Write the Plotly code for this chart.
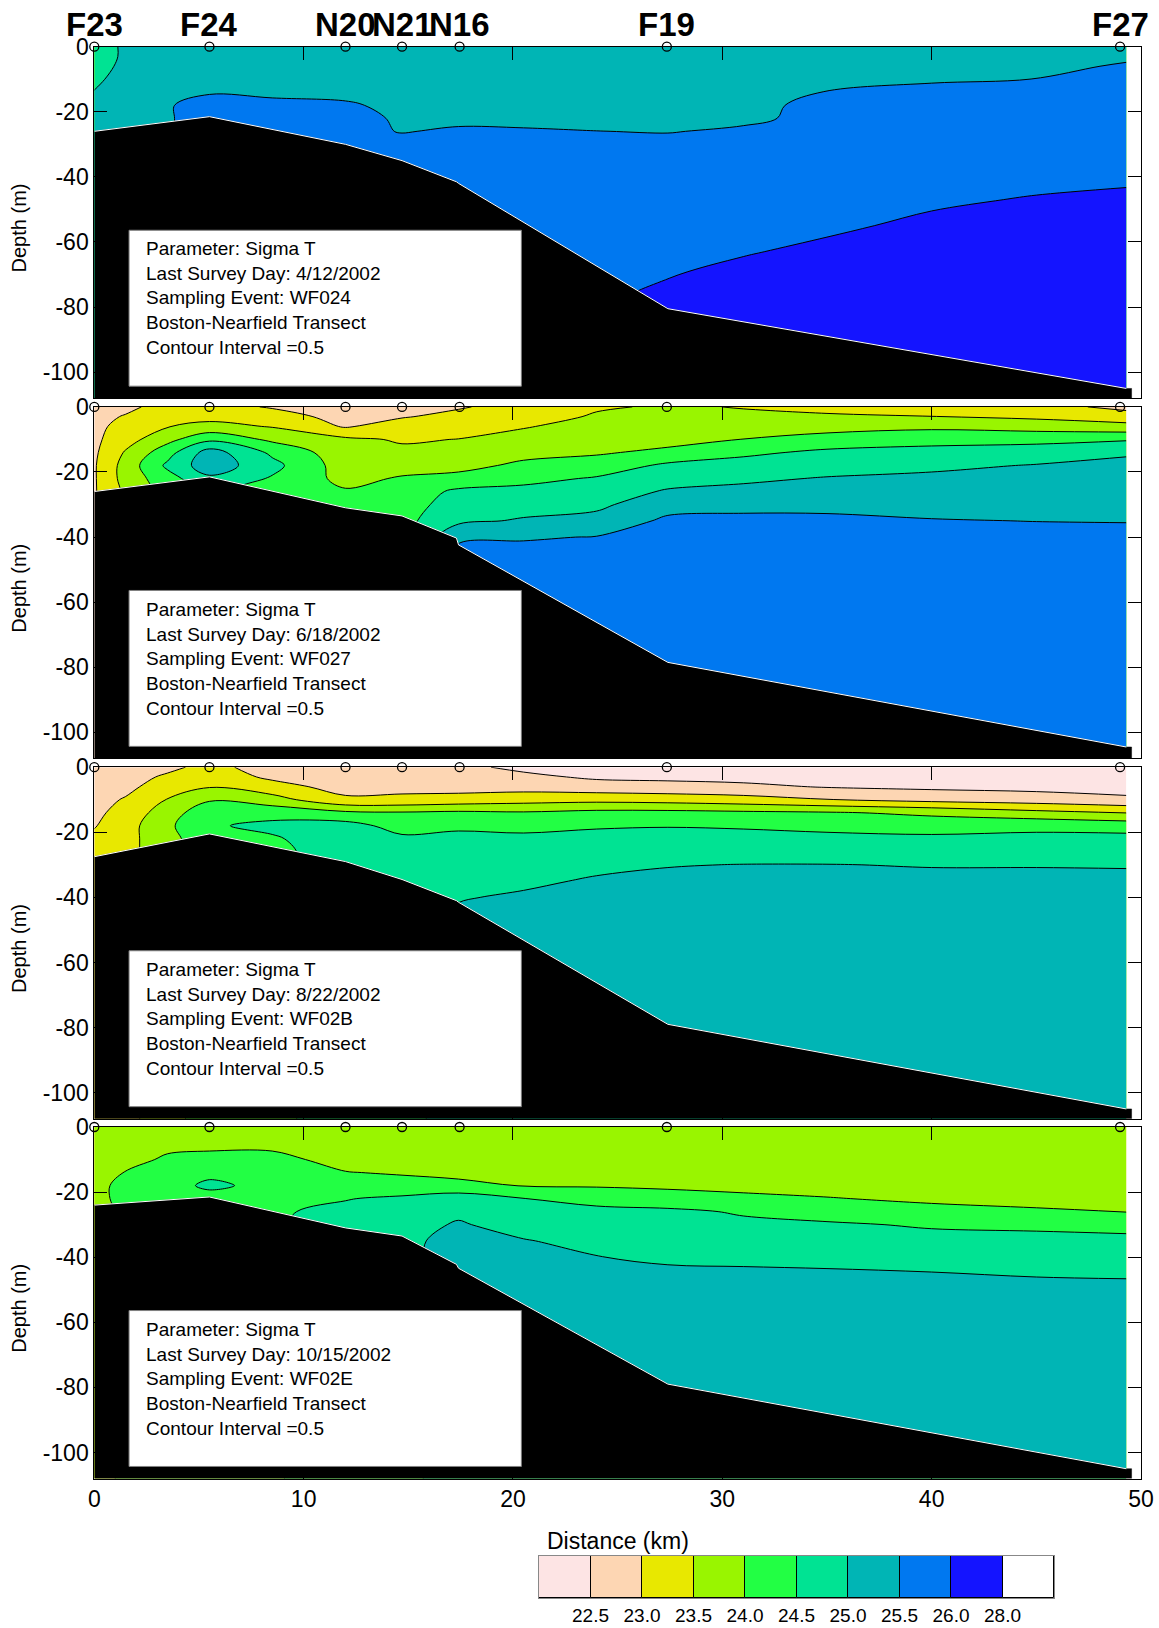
import numpy as np
import plotly.graph_objects as go

# ---------------- data ----------------
X_KM = [0, 1.5, 3.5, 5.5, 8.5, 12.0, 14.7, 17.4, 20.5, 24.0, 27.4, 31.0, 35.0, 40.0, 45.0, 49.3]
DEPTH_M = [0, -3, -6, -10, -14, -18, -22, -26, -30, -35, -40, -47, -55, -63, -71, -80, -90, -100, -108]

STATIONS = ["F23", "F24", "N20", "N21", "N16", "F19", "F27"]
STATION_KM = [0.0, 5.5, 12.0, 14.7, 17.45, 27.35, 49.0]
STATION_DEPTH = [0, 0, 0, 0, 0, 0, 0]

SURVEY_DAYS = ["4/12/2002", "6/18/2002", "8/22/2002", "10/15/2002"]
EVENTS = ["WF024", "WF027", "WF02B", "WF02E"]

# sigma-T profiles, one list per X_KM column, values at DEPTH_M
SIGMA_APR = [
    [24.7, 24.7, 24.75, 24.9, 25.02, 25.2, 25.25, 25.3, 25.3, 25.3, 25.3, 25.3, 25.3, 25.3, 25.3, 25.3, 25.3, 25.3, 25.3],
    [25.1, 25.1, 25.15, 25.2, 25.25, 25.3, 25.35, 25.35, 25.35, 25.35, 25.35, 25.35, 25.35, 25.35, 25.35, 25.35, 25.35, 25.35, 25.35],
    [25.25, 25.25, 25.25, 25.3, 25.35, 25.45, 25.45, 25.45, 25.45, 25.45, 25.45, 25.45, 25.45, 25.45, 25.45, 25.45, 25.45, 25.45, 25.45],
    [25.25, 25.25, 25.25, 25.3, 25.45, 25.75, 25.75, 25.75, 25.75, 25.75, 25.75, 25.75, 25.75, 25.75, 25.75, 25.75, 25.75, 25.75, 25.75],
    [25.25, 25.25, 25.25, 25.3, 25.37, 25.67, 25.75, 25.75, 25.75, 25.75, 25.75, 25.75, 25.75, 25.75, 25.75, 25.75, 25.75, 25.75, 25.75],
    [25.25, 25.25, 25.25, 25.25, 25.3, 25.6, 25.75, 25.75, 25.75, 25.75, 25.75, 25.75, 25.75, 25.75, 25.75, 25.75, 25.75, 25.75, 25.75],
    [25.25, 25.25, 25.25, 25.25, 25.25, 25.3, 25.4, 25.46, 25.76, 25.75, 25.75, 25.75, 25.75, 25.75, 25.75, 25.75, 25.75, 25.75, 25.75],
    [25.25, 25.25, 25.25, 25.25, 25.25, 25.28, 25.31, 25.61, 25.75, 25.75, 25.75, 25.75, 25.75, 25.75, 25.75, 25.75, 25.75, 25.75, 25.75],
    [25.25, 25.25, 25.25, 25.25, 25.25, 25.25, 25.28, 25.58, 25.75, 25.75, 25.75, 25.78, 25.8, 25.8, 25.85, 25.85, 25.85, 25.85, 25.85],
    [25.25, 25.25, 25.25, 25.25, 25.25, 25.25, 25.22, 25.51, 25.7, 25.75, 25.75, 25.78, 25.8, 25.85, 25.9, 25.9, 25.9, 25.9, 25.9],
    [25.25, 25.25, 25.25, 25.25, 25.25, 25.25, 25.3, 25.46, 25.76, 25.75, 25.75, 25.8, 25.85, 25.9, 25.99, 26.29, 26.3, 26.3, 26.3],
    [25.25, 25.25, 25.25, 25.25, 25.25, 25.28, 25.33, 25.63, 25.75, 25.75, 25.8, 25.82, 25.88, 25.94, 26.26, 26.3, 26.3, 26.3, 26.3],
    [25.25, 25.25, 25.28, 25.32, 25.52, 25.72, 25.75, 25.75, 25.78, 25.8, 25.8, 25.82, 25.86, 26.18, 26.25, 26.3, 26.3, 26.3, 26.3],
    [25.25, 25.28, 25.32, 25.41, 25.71, 25.75, 25.75, 25.77, 25.78, 25.8, 25.82, 25.87, 26.17, 26.25, 26.3, 26.3, 26.3, 26.3, 26.3],
    [25.15, 25.18, 25.21, 25.51, 25.7, 25.72, 25.74, 25.75, 25.75, 25.75, 25.76, 26.06, 26.2, 26.25, 26.3, 26.3, 26.3, 26.3, 26.3],
    [25.3, 25.32, 25.62, 25.72, 25.75, 25.75, 25.75, 25.75, 25.78, 25.8, 25.86, 26.16, 26.25, 26.3, 26.3, 26.3, 26.3, 26.3, 26.3],
]

SIGMA_JUN = [
    [22.7, 22.8, 22.85, 22.9, 22.92, 22.95, 22.95, 22.95, 22.95, 22.95, 22.95, 22.95, 22.95, 22.95, 22.95, 22.95, 22.95, 22.95, 22.95],
    [22.85, 23.05, 23.2, 23.3, 23.55, 23.7, 23.7, 23.6, 23.6, 23.6, 23.6, 23.6, 23.6, 23.6, 23.6, 23.6, 23.6, 23.6, 23.6],
    [23.25, 23.3, 23.48, 23.85, 24.3, 24.6, 24.3, 24.2, 24.2, 24.2, 24.2, 24.2, 24.2, 24.2, 24.2, 24.2, 24.2, 24.2, 24.2],
    [23.2, 23.35, 23.65, 24.39, 25.23, 25.3, 24.9, 24.6, 24.6, 24.6, 24.6, 24.6, 24.6, 24.6, 24.6, 24.6, 24.6, 24.6, 24.6],
    [22.95, 23.25, 23.47, 23.9, 24.4, 24.65, 24.45, 24.3, 24.3, 24.3, 24.3, 24.3, 24.3, 24.3, 24.3, 24.3, 24.3, 24.3, 24.3],
    [22.65, 22.8, 22.95, 23.6, 23.7, 23.75, 23.85, 24.05, 24.2, 24.25, 24.25, 24.25, 24.25, 24.25, 24.25, 24.25, 24.25, 24.25, 24.25],
    [22.8, 22.96, 23.25, 23.45, 23.6, 23.8, 24.05, 24.2, 24.3, 24.35, 24.35, 24.35, 24.35, 24.35, 24.35, 24.35, 24.35, 24.35, 24.35],
    [22.95, 23.15, 23.3, 23.51, 23.65, 23.85, 24.15, 24.6, 24.7, 24.9, 25.4, 25.75, 25.75, 25.75, 25.75, 25.75, 25.75, 25.75, 25.75],
    [23.2, 23.3, 23.47, 23.65, 23.85, 24.1, 24.35, 24.65, 24.8, 25.05, 25.45, 25.75, 25.8, 25.8, 25.8, 25.8, 25.8, 25.8, 25.8],
    [23.45, 23.55, 23.65, 23.75, 23.95, 24.2, 24.55, 24.75, 24.9, 25.15, 25.52, 25.75, 25.8, 25.8, 25.8, 25.8, 25.8, 25.8, 25.8],
    [23.55, 23.6, 23.7, 23.85, 24.1, 24.6, 24.8, 25.05, 25.3, 25.6, 25.75, 25.8, 25.8, 25.8, 25.8, 25.8, 25.8, 25.8, 25.8],
    [23.48, 23.58, 23.7, 24.01, 24.4, 24.7, 24.92, 25.12, 25.35, 25.63, 25.75, 25.8, 25.8, 25.8, 25.8, 25.8, 25.8, 25.8, 25.8],
    [23.4, 23.55, 23.8, 24.2, 24.6, 24.8, 25.03, 25.2, 25.4, 25.58, 25.75, 25.8, 25.8, 25.8, 25.8, 25.8, 25.8, 25.8, 25.8],
    [23.3, 23.51, 23.9, 24.3, 24.7, 24.92, 25.08, 25.2, 25.3, 25.53, 25.75, 25.8, 25.8, 25.8, 25.8, 25.8, 25.8, 25.8, 25.8],
    [23.2, 23.4, 23.8, 24.33, 24.8, 25.02, 25.15, 25.25, 25.35, 25.49, 25.7, 25.8, 25.8, 25.8, 25.8, 25.8, 25.8, 25.8, 25.8],
    [22.85, 23.25, 23.65, 24.45, 24.95, 25.1, 25.2, 25.28, 25.35, 25.48, 25.65, 25.8, 25.8, 25.8, 25.8, 25.8, 25.8, 25.8, 25.8],
]

SIGMA_AUG = [
    [22.6, 22.65, 22.7, 22.8, 22.88, 22.97, 23.1, 23.2, 23.25, 23.25, 23.25, 23.25, 23.25, 23.25, 23.25, 23.25, 23.25, 23.25, 23.25],
    [22.65, 22.75, 22.85, 23.05, 23.2, 23.3, 23.35, 23.4, 23.4, 23.4, 23.4, 23.4, 23.4, 23.4, 23.4, 23.4, 23.4, 23.4, 23.4],
    [22.85, 23.1, 23.3, 23.52, 23.75, 23.9, 23.8, 23.7, 23.7, 23.7, 23.7, 23.7, 23.7, 23.7, 23.7, 23.7, 23.7, 23.7, 23.7],
    [23.2, 23.3, 23.47, 23.95, 24.35, 24.45, 24.4, 24.4, 24.4, 24.4, 24.4, 24.4, 24.4, 24.4, 24.4, 24.4, 24.4, 24.4, 24.4],
    [22.7, 22.9, 23.2, 23.7, 24.35, 24.6, 24.45, 24.35, 24.35, 24.35, 24.35, 24.35, 24.35, 24.35, 24.35, 24.35, 24.35, 24.35, 24.35],
    [22.6, 22.7, 22.8, 23.1, 24.1, 24.7, 24.75, 24.8, 24.8, 24.8, 24.8, 24.8, 24.8, 24.8, 24.8, 24.8, 24.8, 24.8, 24.8],
    [22.6, 22.7, 22.85, 23.12, 24.05, 24.3, 24.6, 24.75, 24.8, 24.85, 24.85, 24.85, 24.85, 24.85, 24.85, 24.85, 24.85, 24.85, 24.85],
    [22.6, 22.65, 22.8, 23.2, 24.1, 24.4, 24.65, 24.75, 24.82, 24.88, 24.97, 25.1, 25.2, 25.2, 25.2, 25.2, 25.2, 25.2, 25.2],
    [22.4, 22.6, 22.8, 23.3, 24.05, 24.35, 24.62, 24.72, 24.8, 24.92, 25.06, 25.15, 25.2, 25.2, 25.2, 25.2, 25.2, 25.2, 25.2],
    [22.2, 22.43, 22.7, 23.35, 24.15, 24.45, 24.65, 24.78, 24.9, 25.05, 25.15, 25.2, 25.2, 25.2, 25.2, 25.2, 25.2, 25.2, 25.2],
    [22.2, 22.4, 22.65, 23.3, 24.15, 24.48, 24.65, 24.8, 24.98, 25.1, 25.2, 25.2, 25.2, 25.2, 25.2, 25.2, 25.2, 25.2, 25.2],
    [22.15, 22.35, 22.6, 23.2, 24.1, 24.45, 24.65, 24.8, 25.01, 25.1, 25.2, 25.2, 25.2, 25.2, 25.2, 25.2, 25.2, 25.2, 25.2],
    [22.1, 22.3, 22.47, 23.02, 24.05, 24.38, 24.62, 24.8, 25.01, 25.1, 25.2, 25.2, 25.2, 25.2, 25.2, 25.2, 25.2, 25.2, 25.2],
    [22.1, 22.25, 22.4, 22.85, 23.9, 24.3, 24.6, 24.78, 24.98, 25.1, 25.2, 25.2, 25.2, 25.2, 25.2, 25.2, 25.2, 25.2, 25.2],
    [22.1, 22.2, 22.35, 22.75, 23.65, 24.4, 24.6, 24.78, 24.98, 25.1, 25.2, 25.2, 25.2, 25.2, 25.2, 25.2, 25.2, 25.2, 25.2],
    [22.05, 22.15, 22.3, 22.6, 23.49, 24.3, 24.65, 24.8, 24.97, 25.1, 25.2, 25.2, 25.2, 25.2, 25.2, 25.2, 25.2, 25.2, 25.2],
]

SIGMA_OCT = [
    [23.7, 23.72, 23.75, 23.78, 23.8, 23.85, 23.9, 23.9, 23.9, 23.9, 23.9, 23.9, 23.9, 23.9, 23.9, 23.9, 23.9, 23.9, 23.9],
    [23.7, 23.72, 23.75, 23.82, 24.02, 24.15, 24.1, 24.05, 24.05, 24.05, 24.05, 24.05, 24.05, 24.05, 24.05, 24.05, 24.05, 24.05, 24.05],
    [23.7, 23.78, 23.9, 24.08, 24.2, 24.3, 24.25, 24.2, 24.2, 24.2, 24.2, 24.2, 24.2, 24.2, 24.2, 24.2, 24.2, 24.2, 24.2],
    [23.7, 23.8, 23.92, 24.15, 24.38, 24.6, 24.3, 24.3, 24.3, 24.3, 24.3, 24.3, 24.3, 24.3, 24.3, 24.3, 24.3, 24.3, 24.3],
    [23.7, 23.8, 23.92, 24.15, 24.3, 24.35, 24.4, 24.45, 24.45, 24.45, 24.45, 24.45, 24.45, 24.45, 24.45, 24.45, 24.45, 24.45, 24.45],
    [23.7, 23.72, 23.75, 23.82, 24.02, 24.25, 24.48, 24.6, 24.7, 24.75, 24.75, 24.75, 24.75, 24.75, 24.75, 24.75, 24.75, 24.75, 24.75],
    [23.7, 23.72, 23.75, 23.8, 23.95, 24.2, 24.58, 24.7, 24.8, 24.85, 24.85, 24.85, 24.85, 24.85, 24.85, 24.85, 24.85, 24.85, 24.85],
    [23.7, 23.72, 23.75, 23.8, 23.9, 24.1, 24.8, 24.9, 25.05, 25.2, 25.25, 25.25, 25.25, 25.25, 25.25, 25.25, 25.25, 25.25, 25.25],
    [23.7, 23.72, 23.75, 23.78, 23.85, 23.98, 24.51, 24.7, 24.8, 25.03, 25.2, 25.25, 25.25, 25.25, 25.25, 25.25, 25.25, 25.25, 25.25],
    [23.7, 23.72, 23.74, 23.77, 23.82, 23.96, 24.3, 24.65, 24.75, 24.85, 25.01, 25.15, 25.25, 25.25, 25.25, 25.25, 25.25, 25.25, 25.25],
    [23.7, 23.72, 23.74, 23.76, 23.8, 23.92, 24.2, 24.6, 24.7, 24.8, 24.95, 25.1, 25.25, 25.25, 25.25, 25.25, 25.25, 25.25, 25.25],
    [23.7, 23.72, 23.74, 23.76, 23.8, 23.9, 24.08, 24.45, 24.6, 24.75, 24.93, 25.1, 25.2, 25.25, 25.25, 25.25, 25.25, 25.25, 25.25],
    [23.7, 23.72, 23.73, 23.75, 23.78, 23.85, 24.02, 24.3, 24.56, 24.72, 24.9, 25.1, 25.2, 25.25, 25.25, 25.25, 25.25, 25.25, 25.25],
    [23.7, 23.71, 23.72, 23.74, 23.77, 23.82, 23.93, 24.12, 24.45, 24.65, 24.85, 25.08, 25.2, 25.25, 25.25, 25.25, 25.25, 25.25, 25.25],
    [23.7, 23.71, 23.72, 23.73, 23.75, 23.8, 23.88, 24.05, 24.4, 24.65, 24.8, 25.03, 25.15, 25.25, 25.25, 25.25, 25.25, 25.25, 25.25],
    [23.7, 23.71, 23.72, 23.73, 23.75, 23.78, 23.85, 23.99, 24.25, 24.7, 24.82, 25.01, 25.15, 25.25, 25.25, 25.25, 25.25, 25.25, 25.25],
]

SIGMA = [SIGMA_APR, SIGMA_JUN, SIGMA_AUG, SIGMA_OCT]

# bottom profile (bathymetry) per survey
BATHY_KM = [0, 5.5, 12.0, 14.7, 17.3, 17.4, 27.4, 49.3, 49.55]
BATHY_APR = [-26, -21.5, -30, -35, -41.5, -42, -80.5, -105, -105]
BATHY_JUN = [-26, -21.5, -31, -33.5, -40.3, -42.4, -78.5, -104.5, -104.5]
BATHY_AUG = [-27.5, -20.5, -29, -34.5, -41, -41.5, -79, -105, -105]
BATHY_OCT = [-24, -21.5, -31, -33.5, -42.2, -43.4, -79, -105, -105]
BATHY = [BATHY_APR, BATHY_JUN, BATHY_AUG, BATHY_OCT]

LEVEL_LABELS = ["22.5", "23.0", "23.5", "24.0", "24.5", "25.0", "25.5", "26.0", "28.0"]
C_PINK, C_PEACH, C_YEL, C_YG, C_GRN = "#FDE4E4", "#FDD6B3", "#E8E800", "#99F500", "#22FF44"
C_AQUA, C_TEAL, C_BLUE, C_DEEP, C_WHITE = "#00E393", "#00B5B5", "#0078F0", "#1414FF", "#FFFFFF"
LEGEND_COLORS = [C_PINK, C_PEACH, C_YEL, C_YG, C_GRN, C_AQUA, C_TEAL, C_BLUE, C_DEEP, C_WHITE]

X_TICKS = [0, 10, 20, 30, 40, 50]
Y_TICKS = [0, -20, -40, -60, -80, -100]
Y_MIN = -108

# ---------------- layout helpers ----------------
W, H = 1159, 1628
PX0, PX1 = 94.3, 1141.0
TOPS = [46.7, 406.9, 767.2, 1127.0]
PH = 351.5

ARIAL = "Liberation Sans, Arial, sans-serif"


def py(p):
    return 1 - p / H


# contour band colours: bands below 22.5, between levels 22.5..28 (step .5), above 28
band_fill = [C_PINK, C_PEACH, C_YEL, C_YG, C_GRN, C_AQUA, C_TEAL, C_BLUE,
             C_DEEP, C_DEEP, C_DEEP, C_DEEP, C_WHITE]
nb = len(band_fill) - 1
colorscale = []
for k, c in enumerate(band_fill):
    lo = max(0.0, (k - 0.5) / nb)
    hi = min(1.0, (k + 0.5) / nb)
    colorscale.append([lo, c])
    colorscale.append([hi, c])

fig = go.Figure()
annotations = []
shapes = []

for i in range(4):
    n = i + 1
    xa = "x" if n == 1 else f"x{n}"
    ya = "y" if n == 1 else f"y{n}"
    z = np.array(SIGMA[i]).T
    fig.add_trace(go.Contour(
        x=X_KM, y=DEPTH_M, z=z, xaxis=xa, yaxis=ya,
        autocontour=False,
        contours=dict(start=22.5, end=28.0, size=0.5, coloring="fill", showlines=True),
        line=dict(color="black", width=1, smoothing=1),
        colorscale=colorscale, showscale=False, hoverinfo="skip",
    ))
    bx = BATHY_KM + [BATHY_KM[-1], BATHY_KM[0]]
    by = BATHY[i] + [Y_MIN, Y_MIN]
    fig.add_trace(go.Scatter(
        x=bx, y=by, xaxis=xa, yaxis=ya, mode="lines", fill="toself",
        fillcolor="black", line=dict(color="black", width=0.5),
        hoverinfo="skip", showlegend=False,
    ))
    fig.add_trace(go.Scatter(
        x=BATHY_KM[:-1], y=BATHY[i][:-1], xaxis=xa, yaxis=ya, mode="lines",
        line=dict(color="white", width=1), hoverinfo="skip", showlegend=False,
    ))
    fig.add_trace(go.Scatter(
        x=STATION_KM, y=STATION_DEPTH, xaxis=xa, yaxis=ya, mode="markers",
        marker=dict(symbol="circle-open", size=9, color="black", line=dict(width=1.3)),
        cliponaxis=False, hoverinfo="skip", showlegend=False,
    ))

    # info box
    shapes.append(dict(type="rect", xref=xa, yref=ya, x0=1.66, x1=20.4, y0=-104.3, y1=-56.4,
                       fillcolor="white", line=dict(color="#808080", width=1), layer="above"))
    txt = ("Parameter: Sigma T<br>Last Survey Day: " + SURVEY_DAYS[i] +
           "<br>Sampling Event: " + EVENTS[i] +
           "<br>Boston-Nearfield Transect<br>Contour Interval =0.5")
    annotations.append(dict(xref=xa, yref=ya, x=2.38, y=-58.3, xanchor="left", yanchor="top",
                            text=txt, showarrow=False, align="left",
                            font=dict(family=ARIAL, size=19, color="black")))
    # y axis title
    annotations.append(dict(xref="paper", yref="paper", x=19 / W, y=py(TOPS[i] + PH / 2 + 6),
                            text="Depth (m)", textangle=-90, showarrow=False,
                            xanchor="center", yanchor="middle",
                            font=dict(family=ARIAL, size=20, color="black")))

    axis_common = dict(ticks="inside", ticklen=13, tickcolor="black", tickwidth=1,
                       showline=True, linecolor="black", linewidth=1, mirror="ticks",
                       showgrid=False, zeroline=False, automargin=False,
                       tickfont=dict(family=ARIAL, size=23, color="black"))
    fig.layout["xaxis" if n == 1 else f"xaxis{n}"] = dict(
        domain=[PX0 / W, PX1 / W], range=[0, 50], anchor=ya, tickvals=X_TICKS,
        ticktext=[str(v) for v in X_TICKS], showticklabels=(n == 4), **axis_common)
    fig.layout["yaxis" if n == 1 else f"yaxis{n}"] = dict(
        domain=[py(TOPS[i] + PH), py(TOPS[i])], range=[Y_MIN, 0], anchor=xa,
        tickvals=Y_TICKS, ticktext=[str(v) for v in Y_TICKS], **axis_common)

# station names
for name, xs in zip(STATIONS, STATION_KM):
    annotations.append(dict(xref="x", yref="paper", x=xs, y=py(25), text="<b>" + name + "</b>",
                            showarrow=False, xanchor="center", yanchor="middle",
                            font=dict(family=ARIAL, size=33, color="black")))

annotations.append(dict(xref="paper", yref="paper", x=617.6 / W, y=py(1541), text="Distance (km)",
                        showarrow=False, xanchor="center", yanchor="middle",
                        font=dict(family=ARIAL, size=23, color="black")))

# legend bar
idx = list(range(len(LEGEND_COLORS)))
fig.add_trace(go.Bar(
    x=idx, y=[1] * len(idx), width=1, xaxis="x5", yaxis="y5",
    marker=dict(color=LEGEND_COLORS, line=dict(color="black", width=1)),
    hoverinfo="skip", showlegend=False,
))
fig.layout["xaxis5"] = dict(domain=[539 / W, 1054 / W], range=[-0.5, len(idx) - 0.5], anchor="y5",
                            tickvals=[k + 0.5 for k in range(len(LEVEL_LABELS))], ticktext=LEVEL_LABELS,
                            ticks="", showline=True, linecolor="#888888", linewidth=1, mirror=True,
                            showgrid=False, zeroline=False, automargin=False,
                            tickfont=dict(family=ARIAL, size=19, color="black"))
fig.layout["yaxis5"] = dict(domain=[py(1598), py(1556)], range=[0, 1], anchor="x5",
                            showticklabels=False, ticks="", showline=True, linecolor="#888888",
                            linewidth=1, mirror=True, showgrid=False, zeroline=False, automargin=False)

fig.update_layout(
    width=W, height=H, margin=dict(l=0, r=0, t=0, b=0, autoexpand=False),
    paper_bgcolor="white", plot_bgcolor="white", showlegend=False,
    bargap=0, annotations=annotations, shapes=shapes,
)

fig.write_html(
    "out.html",
    config={"displayModeBar": False},
    post_script="document.body.style.margin='0px';document.body.style.overflow='hidden';",
)
